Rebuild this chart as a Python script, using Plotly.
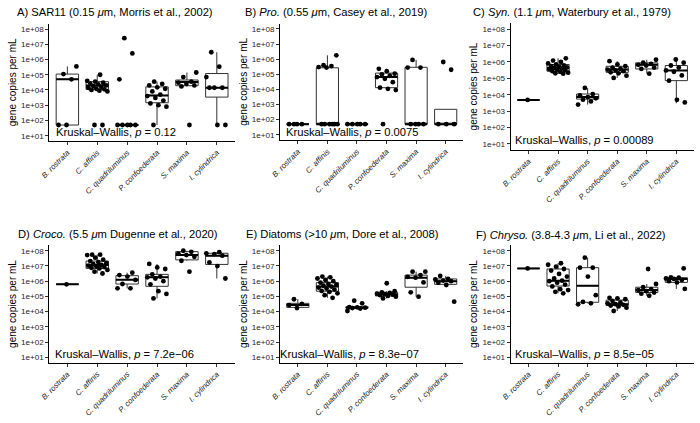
import plotly.graph_objects as go

categories = ["B. rostrata", "C. affinis", "C. quadriluminus", "P. confoederata", "S. maxima", "I. cylindrica"]
y_ticks = [1e1, 1e2, 1e3, 1e4, 1e5, 1e6, 1e7, 1e8]
y_ticktext = ["1e+01", "1e+02", "1e+03", "1e+04", "1e+05", "1e+06", "1e+07", "1e+08"]

titles = [
    "A) SAR11 (0.15 <i>μ</i>m, Morris et al., 2002)",
    "B) <i>Pro.</i> (0.55 <i>μ</i>m, Casey et al., 2019)",
    "C) <i>Syn.</i> (1.1 <i>μ</i>m, Waterbury et al., 1979)",
    "D) <i>Croco.</i> (5.5 <i>μ</i>m Dugenne et al., 2020)",
    "E) Diatoms (>10 <i>μ</i>m, Dore et al., 2008)",
    "F) <i>Chryso.</i> (3.8-4.3 <i>μ</i>m, Li et al., 2022)",
]
p_values = ["0.12", "0.0075", "0.00089", "7.2e−06", "8.3e−07", "8.5e−05"]

# ---------------- Panel A: SAR11 ----------------
A_vals = [
    [50, 50, 5e4, 1.1e5, 3.5e5],
    [50, 50, 8e3, 9e3, 1e4, 1.1e4, 1.2e4, 1.4e4, 1.6e4, 1.8e4, 2e4, 2.3e4, 2.6e4, 3e4, 3.5e4, 4e4, 1e5],
    [50, 50, 50, 50, 50, 5e4, 2.5e6, 2.5e7],
    [50, 800, 1000, 1300, 2000, 3000, 4000, 5000, 8000, 1.2e4, 1.5e4, 2e4, 2.5e4, 3.5e4],
    [50, 1.7e4, 2e4, 2.5e4, 3e4, 3.5e4, 7e4, 1.4e5],
    [50, 50, 1.4e4, 1.4e4, 1.4e4, 7e4, 3.4e5, 3e6],
]
A_q1 = [50, 1.1e4, 50, 1.45e3, 1.9e4, 3.4e3]
A_med = [5e4, 2e4, 50, 4.4e3, 3.3e4, 1.4e4]
A_q3 = [1.1e5, 3.5e4, 50, 1.6e4, 4.5e4, 1.2e5]
A_lo = [50, 8e3, 50, 50, 1.7e4, 50]
A_hi = [3.5e5, 1e5, 50, 3.5e4, 1.4e5, 3e6]

# ---------------- Panel B: Pro. ----------------
B_vals = [
    [50, 50, 50, 50],
    [50, 50, 50, 50, 50, 50, 2.8e5, 3e5, 3.5e5, 4e5, 1.8e6],
    [50, 50, 50, 50, 50],
    [50, 9e3, 1.1e4, 1.3e4, 3e4, 5e4, 6.5e4, 8e4, 1e5, 1.1e5, 1.6e5, 2.3e5],
    [50, 50, 50, 50, 2.8e5, 2.8e5, 9e5],
    [50, 50, 50, 2e5, 6.5e5],
]
B_q1 = [50, 50, 50, 1.3e4, 50, 50]
B_med = [50, 50, 50, 6.7e4, 50, 50]
B_q3 = [50, 2.7e5, 50, 1.2e5, 2.9e5, 480]
B_lo = [50, 50, 50, 9e3, 50, 50]
B_hi = [50, 1.8e6, 50, 2.3e5, 9e5, 480]

# ---------------- Panel C: Syn. ----------------
C_vals = [
    [4.8e3],
    [1.9e5, 2e5, 2.2e5, 2.5e5, 2.7e5, 3e5, 3.3e5, 3.6e5, 4e5, 4.3e5, 4.6e5, 5e5, 5.5e5, 6e5, 6.9e5, 8e5, 1e6, 1.2e6, 1.65e6],
    [2.5e3, 3.9e3, 5e3, 6e3, 7.2e3, 9e3, 1.1e4, 2.6e4],
    [1.05e5, 1.45e5, 2e5, 2.3e5, 2.7e5, 3e5, 3.4e5, 3.8e5, 4.5e5, 5.4e5, 7e5, 1.1e6],
    [1.9e5, 3.7e5, 4.5e5, 6e5, 6.6e5, 7.5e5, 9e5, 1.35e6],
    [3.4e3, 4.9e3, 7.2e4, 1.5e5, 2.5e5, 3e5, 4.5e5, 6e5, 9e5, 1.4e6],
]
C_q1 = [4.8e3, 2.7e5, 5.4e3, 2.3e5, 3.7e5, 7.2e4]
C_med = [4.8e3, 4.3e5, 7.2e3, 3.4e5, 6.6e5, 3e5]
C_q3 = [4.8e3, 6.9e5, 1.1e4, 5.4e5, 8.7e5, 6e5]
C_lo = [4.8e3, 1.9e5, 2.5e3, 1.05e5, 1.9e5, 3e3]
C_hi = [4.8e3, 1.65e6, 2.6e4, 1.1e6, 1.35e6, 1.4e6]

# ---------------- Panel D: Croco. ----------------
D_vals = [
    [6.2e5],
    [3.2e6, 4.2e6, 5.5e6, 6.9e6, 7.5e6, 8.5e6, 9.5e6, 1.05e7, 1.15e7, 1.3e7, 1.5e7, 1.8e7, 2.1e7, 2.6e7, 3.5e7, 5.2e7, 5.5e7, 5.5e7],
    [3.4e5, 3.4e5, 6.5e5, 1.2e6, 2e6, 2.5e6, 3.6e6],
    [7.4e4, 1.45e5, 2.2e5, 6.2e5, 1e6, 1.5e6, 1.8e6, 2e6, 2.8e6, 6.3e6, 8e6, 1.35e7],
    [4.2e6, 2.2e7, 4e7, 5.2e7, 6.5e7, 8.5e7, 1e8],
    [1.5e6, 9.8e6, 1.7e7, 4.7e7, 6e7, 6.8e7, 8e7],
]
D_q1 = [6.2e5, 6.9e6, 6.5e5, 4.6e5, 2.5e7, 1.26e7]
D_med = [6.2e5, 1.15e7, 1.26e6, 1.8e6, 5.2e7, 4.7e7]
D_q3 = [6.2e5, 2.1e7, 2.3e6, 2.8e6, 8.7e7, 6.8e7]
D_lo = [6.2e5, 3.2e6, 3.4e5, 7.4e4, 2.2e7, 1.5e6]
D_hi = [6.2e5, 5.5e7, 3.6e6, 1.35e7, 1e8, 8e7]

# ---------------- Panel E: Diatoms ----------------
E_vals = [
    [1.7e4, 2.7e4, 3.2e4, 6.5e4],
    [8e4, 1.2e5, 1.6e5, 2e5, 2.3e5, 2.8e5, 3.3e5, 3.8e5, 4.4e5, 5e5, 5.8e5, 6.5e5, 8e5, 1e6, 1.2e6, 1.5e6, 1.8e6, 2e6],
    [1.1e4, 1.6e4, 1.7e4, 1.8e4, 1.9e4, 2e4, 3.5e4, 5.2e4],
    [7.4e4, 9.6e4, 1.07e5, 1.2e5, 1.3e5, 1.4e5, 1.5e5, 1.7e5, 1.85e5, 2.2e5, 7.3e5],
    [9.6e4, 1.85e5, 8.3e5, 1.7e6, 1.9e6, 2.5e6, 4.2e6, 4.2e6],
    [4.5e4, 5.6e5, 8e5, 1e6, 1.1e6, 1.3e6, 1.4e6, 2.2e6],
]
E_q1 = [1.9e4, 2.2e5, 1.7e4, 1.07e5, 4e5, 6.2e5]
E_med = [2.7e4, 4.4e5, 1.8e4, 1.4e5, 1.7e6, 1e6]
E_q3 = [3.5e4, 8e5, 2.1e4, 1.85e5, 2.5e6, 1.4e6]
E_lo = [1.7e4, 8e4, 1.6e4, 7.4e4, 9.6e4, 5.6e5]
E_hi = [6.5e4, 2e6, 2.1e4, 2.2e5, 4.2e6, 2.2e6]

# ---------------- Panel F: Chryso. ----------------
F_vals = [
    [6.9e6],
    [1.6e5, 2e5, 2.6e5, 3e5, 4.5e5, 6e5, 8e5, 1e6, 1.07e6, 1.5e6, 2e6, 3e6, 5e6, 6.3e6, 9e6, 1.2e7, 1.5e7],
    [3e4, 3.5e4, 4.3e4, 1.2e5, 2e6, 7.7e6, 7.7e6, 3.5e7],
    [1.1e4, 1.8e4, 2.2e4, 2.5e4, 2.8e4, 3.1e4, 3.5e4, 4e4, 5e4, 6.5e4, 7.5e4, 8e4],
    [1.1e5, 1.5e5, 1.8e5, 2.2e5, 2.6e5, 3e5, 4e5, 6.5e5, 6.3e6],
    [3.1e5, 8.3e5, 1e6, 1.2e6, 1.4e6, 1.5e6, 1.7e6, 1.8e6, 6.9e6],
]
F_q1 = [6.9e6, 4.8e5, 4.1e4, 2.5e4, 1.8e5, 8.3e5]
F_med = [6.9e6, 1.07e6, 5e5, 3.1e4, 2.6e5, 1.4e6]
F_q3 = [6.9e6, 6.3e6, 7.7e6, 5.7e4, 4e5, 1.7e6]
F_lo = [6.9e6, 1.6e5, 3.5e4, 1.1e4, 1.1e5, 3.1e5]
F_hi = [6.9e6, 1.5e7, 3.5e7, 8e4, 6.5e5, 1.8e6]

panel_vals = [A_vals, B_vals, C_vals, D_vals, E_vals, F_vals]
panel_stats = [
    (A_q1, A_med, A_q3, A_lo, A_hi),
    (B_q1, B_med, B_q3, B_lo, B_hi),
    (C_q1, C_med, C_q3, C_lo, C_hi),
    (D_q1, D_med, D_q3, D_lo, D_hi),
    (E_q1, E_med, E_q3, E_lo, E_hi),
    (F_q1, F_med, F_q3, F_lo, F_hi),
]

# ---------------- layout geometry (pixels) ----------------
W, H = 700, 423
# (left, right, top, bottom) of each plotting area
geometry = [
    (40, 228, 23.7, 141),
    (274, 460, 23.7, 140),
    (508, 694, 23.3, 149.7),
    (40, 228, 245.4, 362.6),
    (274, 460, 245.4, 362.6),
    (508, 694, 245.4, 362.6),
]
title_pos = [(5, 12.3), (236, 12.3), (468, 12.3), (6, 234), (237, 234), (471, 235)]
kw_pos = [(45, 132.3), (278, 131.7), (510.5, 140), (43.5, 354.3), (272, 354.3), (510.5, 354)]

FONT = "Liberation Sans, Arial, Helvetica, sans-serif"
BOX_W = 0.75
positions = list(range(1, len(categories) + 1))

fig = go.Figure()
layout = dict(
    width=W, height=H,
    margin=dict(l=0, r=0, t=0, b=0),
    paper_bgcolor="white", plot_bgcolor="white",
    showlegend=False,
    boxmode="overlay",
    font=dict(family=FONT, color="black"),
    annotations=[],
)

for i in range(6):
    n = i + 1
    xa = "x" if n == 1 else f"x{n}"
    ya = "y" if n == 1 else f"y{n}"
    l, r, t, b = geometry[i]
    q1, med, q3, lo, hi = panel_stats[i]

    # boxes
    fig.add_trace(go.Box(
        x=positions, q1=q1, median=med, q3=q3,
        lowerfence=lo, upperfence=hi,
        boxpoints=False, width=BOX_W, whiskerwidth=0,
        fillcolor="white", line=dict(color="#333333", width=1),
        xaxis=xa, yaxis=ya, hoverinfo="skip",
    ))
    # thick median lines
    mx, my = [], []
    for p, m in zip(positions, med):
        mx += [p - BOX_W / 2, p + BOX_W / 2, None]
        my += [m, m, None]
    fig.add_trace(go.Scatter(
        x=mx, y=my, mode="lines", line=dict(color="black", width=2),
        xaxis=xa, yaxis=ya, hoverinfo="skip",
    ))
    # jittered points (deterministic jitter)
    px, py = [], []
    for p, vals in zip(positions, panel_vals[i]):
        for k, v in enumerate(vals):
            off = ((k * 0.618034 + 0.17 + 0.29 * p) % 1.0 - 0.5) * 0.7
            px.append(p + off)
            py.append(v)
    fig.add_trace(go.Scatter(
        x=px, y=py, mode="markers",
        marker=dict(color="black", size=4.8),
        xaxis=xa, yaxis=ya, hoverinfo="skip",
    ))

    xkey = "xaxis" if n == 1 else f"xaxis{n}"
    ykey = "yaxis" if n == 1 else f"yaxis{n}"
    layout[xkey] = dict(
        domain=[l / W, r / W], anchor=ya,
        range=[0.4, len(categories) + 0.6],
        tickmode="array", tickvals=positions,
        ticktext=[f"<i>{c}</i>" for c in categories],
        tickangle=-45, tickfont=dict(size=7.8, color="#262626", family=FONT),
        ticks="outside", ticklen=3, tickcolor="#333333", tickwidth=1,
        showline=True, linecolor="black", linewidth=1,
        showgrid=False, zeroline=False,
    )
    layout[ykey] = dict(
        domain=[1 - b / H, 1 - t / H], anchor=xa,
        type="log", range=[0.65, 8.35],
        tickmode="array", tickvals=y_ticks, ticktext=y_ticktext,
        tickfont=dict(size=8.1, color="#262626", family=FONT),
        ticks="outside", ticklen=3, tickcolor="#333333", tickwidth=1,
        showline=True, linecolor="black", linewidth=1,
        showgrid=False, zeroline=False,
        title=dict(text="gene copies per mL", font=dict(size=10, family=FONT), standoff=2),
    )
    tx, ty = title_pos[i]
    layout["annotations"].append(dict(
        text=titles[i], xref="paper", yref="paper",
        x=tx / W, y=1 - ty / H, xanchor="left", yanchor="middle",
        showarrow=False, font=dict(size=11.2, family=FONT, color="black"),
    ))
    kx, ky = kw_pos[i]
    layout["annotations"].append(dict(
        text=f"Kruskal–Wallis, <i>p</i> = {p_values[i]}", xref="paper", yref="paper",
        x=kx / W, y=1 - ky / H, xanchor="left", yanchor="middle",
        showarrow=False, font=dict(size=11.2, family=FONT, color="black"),
    ))

fig.update_layout(**layout)
fig.write_html("out.html")
